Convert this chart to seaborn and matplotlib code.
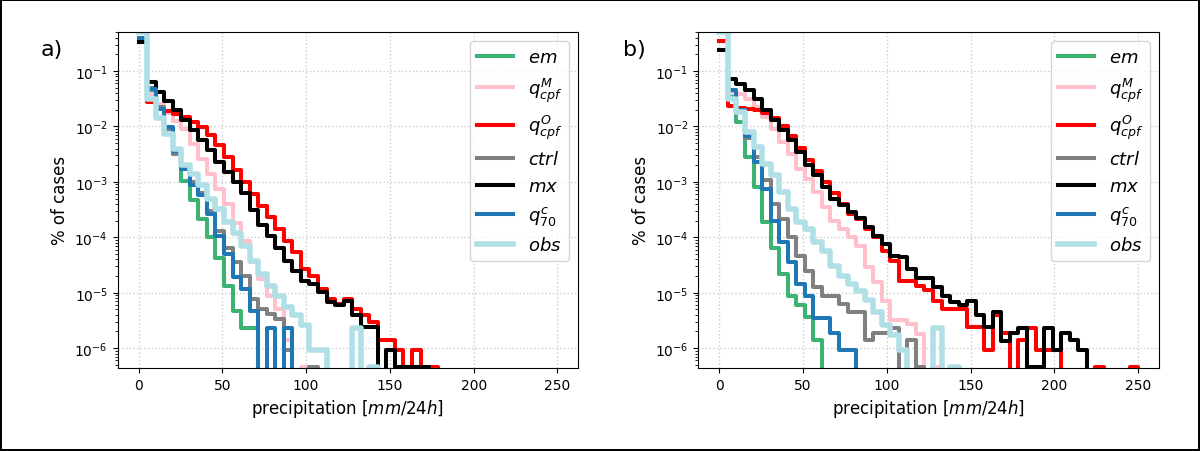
import numpy as np
import matplotlib
matplotlib.use("Agg")
import matplotlib.pyplot as plt
import seaborn as sns

plt.rcParams["mathtext.default"] = "it"

# 50 bins of 5.1 mm/24h between 0 and 255
bin_width = 5.1
bin_range = (0, 255)
centers = np.arange(50) * bin_width + bin_width / 2

labels = [r"$em$", r"$q^{M}_{cpf}$", r"$q^{O}_{cpf}$", r"$ctrl$",
          r"$mx$", r"$q^{c}_{70}$", r"$obs$"]
colors = ["mediumseagreen", "pink", "red", "grey", "black", "tab:blue", "powderblue"]
widths = [2.9, 2.9, 2.9, 2.9, 2.9, 2.9, 4.0]

# fraction of cases per bin, panel a (bins after the last value are empty)
em_a = [0.38, 4.47e-2, 1.41e-2, 7.41e-3, 3.16e-3, 1.05e-3, 4.68e-4, 2.14e-4,
        1.0e-4, 4.27e-5, 1.35e-5, 4.68e-6, 2.33e-6, 2.33e-6]
qM_a = [0.37, 3.80e-2, 2.51e-2, 1.78e-2, 1.26e-2, 8.91e-3, 4.79e-3, 2.63e-3,
        1.38e-3, 7.59e-4, 3.98e-4, 1.78e-4, 8.51e-5, 3.55e-5, 1.78e-5, 8.91e-6,
        5.01e-6, 1.40e-6, 0, 4.65e-7]
qO_a = [0.36, 2.75e-2, 2.09e-2, 1.91e-2, 1.66e-2, 1.48e-2, 1.20e-2, 9.77e-3,
        6.92e-3, 4.57e-3, 2.82e-3, 1.62e-3, 1.0e-3, 6.03e-4, 3.72e-4, 2.29e-4,
        1.41e-4, 8.71e-5, 5.37e-5, 2.69e-5, 2.04e-5, 1.17e-5, 7.76e-6, 6.31e-6,
        7.76e-6, 5.01e-6, 3.89e-6, 2.95e-6, 1.40e-6, 1.40e-6, 9.3e-7, 4.65e-7,
        9.3e-7, 4.65e-7, 4.65e-7]
ctrl_a = [0.38, 5.01e-2, 2.24e-2, 8.91e-3, 3.24e-3, 1.91e-3, 1.0e-3, 6.31e-4,
          3.02e-4, 1.32e-4, 6.31e-5, 3.55e-5, 2.0e-5, 7.76e-6, 5.01e-6, 4.17e-6,
          3.39e-6, 9.3e-7, 0, 0, 4.65e-7]
mx_a = [0.33, 6.31e-2, 4.17e-2, 2.82e-2, 1.95e-2, 1.29e-2, 8.51e-3, 5.62e-3,
        3.72e-3, 2.29e-3, 1.51e-3, 1.0e-3, 6.31e-4, 3.16e-4, 1.70e-4, 1.07e-4,
        6.31e-5, 3.80e-5, 2.51e-5, 1.66e-5, 1.41e-5, 1.02e-5, 6.76e-6, 5.89e-6,
        7.24e-6, 3.89e-6, 2.40e-6, 2.40e-6, 0, 9.3e-7, 4.65e-7, 4.65e-7,
        4.65e-7, 4.65e-7]
q70_a = [0.39, 4.68e-2, 2.09e-2, 9.77e-3, 3.55e-3, 1.74e-3, 8.71e-4, 5.75e-4,
         2.63e-4, 1.07e-4, 5.01e-5, 1.91e-5, 1.17e-5, 4.68e-6, 0, 2.33e-6,
         0, 2.33e-6]
obs_a = [0.5, 3.16e-2, 1.41e-2, 7.41e-3, 3.98e-3, 2.0e-3, 1.41e-3, 8.71e-4,
         5.01e-4, 3.31e-4, 1.91e-4, 1.20e-4, 7.08e-5, 3.80e-5, 2.19e-5, 1.35e-5,
         8.91e-6, 5.50e-6, 3.89e-6, 2.57e-6, 9.3e-7, 9.3e-7, 0, 0,
         0, 2.33e-6, 0, 4.65e-7]

# panel b
em_b = [0.6, 3.55e-2, 1.20e-2, 2.82e-3, 8.13e-4, 1.86e-4, 6.46e-5, 2.19e-5,
        8.91e-6, 5.89e-6, 3.63e-6, 1.40e-6]
qM_b = [0.6, 3.98e-2, 3.80e-2, 3.16e-2, 2.24e-2, 1.48e-2, 9.12e-3, 5.25e-3,
        3.24e-3, 1.74e-3, 1.15e-3, 6.61e-4, 3.55e-4, 2.0e-4, 1.41e-4, 1.0e-4,
        7.08e-5, 2.88e-5, 1.58e-5, 7.24e-6, 3.16e-6, 3.16e-6, 2.75e-6, 1.82e-6,
        0, 4.65e-7]
qO_b = [0.35, 2.34e-2, 2.14e-2, 2.09e-2, 1.95e-2, 1.78e-2, 1.41e-2, 1.0e-2,
        6.61e-3, 4.17e-3, 2.51e-3, 1.58e-3, 1.0e-3, 6.31e-4, 3.98e-4, 2.63e-4,
        2.14e-4, 1.41e-4, 1.0e-4, 5.75e-5, 3.80e-5, 1.66e-5, 1.66e-5, 1.35e-5,
        1.10e-5, 7.24e-6, 5.13e-6, 5.13e-6, 5.13e-6, 2.40e-6, 2.40e-6, 9.3e-7,
        3.89e-6, 1.86e-6, 0, 1.40e-6, 2.33e-6, 9.3e-7, 9.3e-7, 9.3e-7,
        0, 0, 0, 0, 4.65e-7, 0, 0, 0,
        4.65e-7]
ctrl_b = [0.6, 4.47e-2, 2.0e-2, 6.31e-3, 2.82e-3, 1.07e-3, 4.07e-4, 2.14e-4,
          1.0e-4, 4.68e-5, 2.51e-5, 1.26e-5, 8.91e-6, 8.91e-6, 6.31e-6, 4.47e-6,
          4.47e-6, 1.40e-6, 1.86e-6, 1.86e-6, 2.33e-6, 0, 1.40e-6, 4.65e-7]
mx_b = [0.235, 7.24e-2, 5.89e-2, 4.47e-2, 3.16e-2, 1.95e-2, 1.29e-2, 8.51e-3,
        5.62e-3, 3.47e-3, 2.0e-3, 1.32e-3, 8.13e-4, 5.01e-4, 3.80e-4, 2.82e-4,
        2.24e-4, 1.51e-4, 1.05e-4, 7.59e-5, 4.68e-5, 4.37e-5, 2.69e-5, 1.82e-5,
        1.82e-5, 1.26e-5, 8.91e-6, 6.76e-6, 5.89e-6, 7.24e-6, 3.89e-6, 2.40e-6,
        4.47e-6, 1.32e-6, 1.86e-6, 2.33e-6, 4.65e-7, 4.65e-7, 2.33e-6, 9.3e-7,
        1.86e-6, 1.40e-6, 9.3e-7]
q70_b = [0.6, 4.47e-2, 1.95e-2, 6.76e-3, 2.29e-3, 7.59e-4, 2.0e-4, 8.13e-5,
         3.55e-5, 1.45e-5, 8.91e-6, 3.55e-6, 3.55e-6, 1.86e-6, 9.3e-7, 9.3e-7]
obs_b = [0.5, 3.16e-2, 1.82e-2, 7.94e-3, 4.27e-3, 2.14e-3, 1.32e-3, 6.61e-4,
         3.31e-4, 1.86e-4, 1.41e-4, 8.13e-5, 5.75e-5, 3.09e-5, 2.04e-5, 1.41e-5,
         1.07e-5, 7.41e-6, 4.47e-6, 2.57e-6, 1.70e-6, 9.3e-7, 0, 0,
         0, 2.33e-6, 0, 4.65e-7]

panel_a = [em_a, qM_a, qO_a, ctrl_a, mx_a, q70_a, obs_a]
panel_b = [em_b, qM_b, qO_b, ctrl_b, mx_b, q70_b, obs_b]

xticks = [0, 50, 100, 150, 200, 250]
yticks = [1e-6, 1e-5, 1e-4, 1e-3, 1e-2, 1e-1]


fig = plt.figure(figsize=(12, 4.52), dpi=100, edgecolor="black", linewidth=1.5)
ax_a = fig.add_axes([0.098, 0.184, 0.384, 0.743])
ax_b = fig.add_axes([0.582, 0.184, 0.384, 0.743])

for ax, data in [(ax_a, panel_a), (ax_b, panel_b)]:
    for vals, lab, col, lw in zip(data, labels, colors, widths):
        sns.histplot(
            x=centers[:len(vals)],
            weights=vals,
            binwidth=bin_width,
            binrange=bin_range,
            element="step",
            fill=False,
            color=col,
            linewidth=lw,
            label=lab,
            ax=ax
        )
    ax.set_yscale("log")
    ax.set_xlim(-12.5, 262.5)
    ax.set_ylim(4.42e-7, 0.506)
    ax.set_xticks(xticks)
    ax.set_yticks(yticks)
    ax.grid(True, which="major", linestyle=":", color="0.8", linewidth=1)
    ax.set_xlabel(r"precipitation [$mm/24h$]", fontsize=12)
    ax.set_ylabel("% of cases", fontsize=12)
    ax.legend(loc="upper right", fontsize=13)

fig.text(0.034, 0.889, "a)", fontsize=16, va="center")
fig.text(0.519, 0.889, "b)", fontsize=16, va="center")

fig.savefig("out.png", dpi=100, edgecolor=fig.get_edgecolor())
